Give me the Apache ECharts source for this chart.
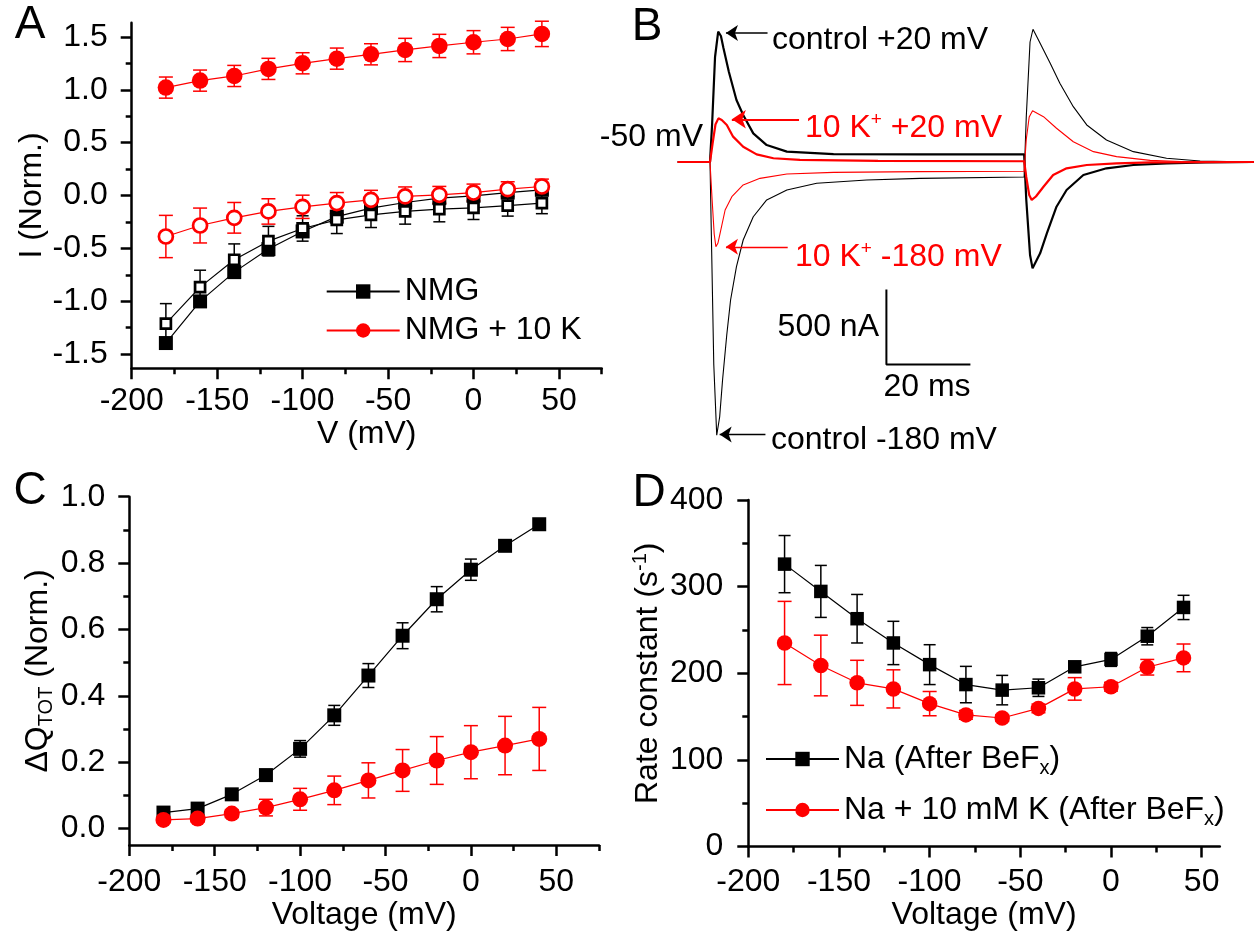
<!DOCTYPE html>
<html><head><meta charset="utf-8">
<script src="https://cdn.jsdelivr.net/npm/echarts@6/dist/echarts.min.js"></script>
<style>html,body{margin:0;padding:0;background:#fff}#chart{width:1254px;height:932px}</style>
</head><body><div id="chart"></div>
<script>
// ---------------- DATA ----------------
const voltages = [-180,-160,-140,-120,-100,-80,-60,-40,-20,0,20,40];

// Panel A : I (Norm.) vs V
const aNmgFilled    = [-1.396,-1.002,-0.725,-0.507,-0.340,-0.200,-0.120,-0.066,-0.025,-0.003,0.028,0.054];
const aNmgFilledErr = [0.03,0.04,0.04,0.05,0.05,0.05,0.06,0.05,0.05,0.04,0.04,0.03];
const aNmgOpen      = [-1.213,-0.867,-0.608,-0.432,-0.312,-0.230,-0.183,-0.151,-0.129,-0.117,-0.095,-0.072];
const aNmgOpenErr   = [0.19,0.16,0.15,0.14,0.12,0.13,0.12,0.12,0.12,0.11,0.10,0.10];
const aKFilled      = [1.021,1.087,1.131,1.198,1.251,1.295,1.336,1.377,1.415,1.450,1.481,1.529];
const aKFilledErr   = [0.10,0.10,0.10,0.10,0.10,0.10,0.10,0.11,0.11,0.11,0.11,0.12];
const aKOpen        = [-0.388,-0.284,-0.211,-0.151,-0.107,-0.072,-0.041,-0.009,0.006,0.028,0.060,0.085];
const aKOpenErr     = [0.20,0.165,0.145,0.12,0.11,0.10,0.09,0.09,0.08,0.08,0.07,0.07];

// Panel B : current traces [time (ms), current (nA)]
const ctrlPos20 = [[-7.7,0],[0,0],[0.5,250],[1.2,700],[1.95,869],[2.6,840],[3.2,760],[4.5,600],[6.3,413],[7.9,313],[10.3,191],[13.5,113],[18.3,69],[29.4,53],[50,51],[74.8,51],[75.3,-250],[76.2,-620],[76.8,-709],[78.6,-609],[80.2,-476],[82.5,-298],[84.9,-187],[88.9,-87],[94.4,-42],[100.8,-20],[108.7,-9],[118,-2],[129.5,0]];
const ctrlNeg180 = [[-7.7,0],[0,0],[0.4,-600],[0.9,-1350],[1.6,-1821],[2.3,-1700],[3.0,-1450],[4.0,-1150],[4.9,-920],[6.3,-698],[7.9,-520],[10.3,-365],[13.5,-253],[18.3,-187],[25.4,-142],[37.3,-120],[50,-109],[74.8,-100],[75.3,300],[76.2,800],[76.9,885],[78.6,791],[81,658],[83.3,525],[86.5,369],[89.7,247],[94.4,147],[100.8,69],[108.7,25],[116.7,7],[129.5,0]];
const kPos20 = [[-7.7,0],[0,0],[0.6,120],[1.3,250],[2.0,291],[2.8,280],[4,247],[5.5,169],[7.9,102],[11.1,51],[15.1,25],[21.4,14],[40,8],[74.8,5],[75.3,-100],[76.0,-220],[76.6,-253],[77.6,-230],[79.4,-165],[81.7,-87],[84.9,-42],[89.7,-20],[96.8,-9],[105,-2],[129.5,0]];
const kNeg180 = [[-7.7,0],[0,0],[0.5,-250],[1.0,-480],[1.4,-565],[1.9,-540],[2.4,-476],[3.6,-320],[5.2,-231],[7.9,-153],[11.9,-109],[18.3,-80],[29.4,-69],[50,-64],[74.8,-62],[75.3,150],[76.0,300],[76.8,342],[79.4,302],[82.5,225],[86.5,135],[91.3,69],[96.8,36],[104.8,11],[112,3],[129.5,0]];
const scaleBarOrigin = [42, -1350];   // ms, nA
const scaleBarSize = [20, 500];       // 20 ms, 500 nA

// Panel C : ΔQ_TOT (Norm.)
const cNa    = [0.048,0.060,0.103,0.161,0.240,0.341,0.461,0.581,0.691,0.780,0.852,0.917];
const cNaErr = [0.010,0.010,0.010,0.012,0.025,0.030,0.036,0.039,0.038,0.032,0.012,0.010];
const cK     = [0.026,0.030,0.045,0.063,0.088,0.115,0.145,0.175,0.205,0.230,0.250,0.270];
const cKErr  = [0.008,0.010,0.012,0.025,0.033,0.043,0.053,0.063,0.072,0.080,0.088,0.095];

// Panel D : Rate constant (s^-1)
const dNa    = [326,294.5,263,235,210,187,180.6,183.3,207.5,216,242.8,276];
const dNaErr = [33,30,28,25,23,21,17,10,5,8,10,14];
const dK     = [235,209,189,182,165,152,148.4,159.5,182,184.5,207,217.8];
const dKErr  = [48,35,26,22,14,5,4,5,13,5,9,16];

// tick labels
const vTicks = [-200,-150,-100,-50,0,50];
const vMinor = [-175,-125,-75,-25,25,75];
const aTicks = [-1.5,-1.0,-0.5,0,0.5,1.0,1.5];
const aMinor = [-1.25,-0.75,-0.25,0.25,0.75,1.25];
const cTicks = [0,0.2,0.4,0.6,0.8,1.0];
const cMinor = [0.1,0.3,0.5,0.7,0.9];
const dTicks = [0,100,200,300,400];
const dMinor = [50,150,250,350];

// ---------------- HELPERS ----------------
const FONT = 'Liberation Sans, Arial, Helvetica, sans-serif';
const FS = 32;
const RED = '#ff0000';

function pts(ys){ return voltages.map((v,i)=>[v, ys[i]]); }
function errData(ys, es){ return voltages.map((v,i)=>[v, ys[i], es[i]]); }

function errSeries(xi, yi, ys, es, color, cap){
  return {
    type:'custom', xAxisIndex:xi, yAxisIndex:yi, silent:true, z:2,
    dimensions:['x','y','e'], encode:{x:0, y:1},
    data: errData(ys, es),
    renderItem: function(params, api){
      const x = api.value(0), y = api.value(1), e = api.value(2);
      const t = api.coord([x, y + e]), b = api.coord([x, y - e]);
      const h = cap/2, st = {stroke:color, lineWidth:1.5};
      return {type:'group', children:[
        {type:'line', shape:{x1:t[0],y1:t[1],x2:b[0],y2:b[1]}, style:st},
        {type:'line', shape:{x1:t[0]-h,y1:t[1],x2:t[0]+h,y2:t[1]}, style:st},
        {type:'line', shape:{x1:b[0]-h,y1:b[1],x2:b[0]+h,y2:b[1]}, style:st}
      ]};
    }
  };
}
function lineSeries(name, xi, yi, ys, symbol, size, color, fill, border){
  return {
    type:'line', name:name, xAxisIndex:xi, yAxisIndex:yi, data:pts(ys), z:3,
    symbol:symbol, symbolSize:size, showAllSymbol:true, silent:true,
    itemStyle: fill ? {color:fill, borderColor:color, borderWidth:border} : {color:color},
    lineStyle:{color:color, width:1.2},
    emphasis:{disabled:true}
  };
}
function mainX(gi, min, max, name, nameGap, margin){
  return {type:'value', gridIndex:gi, min:min, max:max, position:'bottom',
    name:name, nameLocation:'middle', nameGap:nameGap,
    nameTextStyle:{fontSize:FS, color:'#000', fontFamily:FONT},
    axisLine:{show:true, onZero:false, lineStyle:{color:'#000', width:2.5}},
    axisTick:{show:true, inside:false, length:11, customValues:vTicks.filter(v=>v<=max), lineStyle:{color:'#000', width:2.5}},
    axisLabel:{show:true, customValues:vTicks.filter(v=>v<=max), margin:margin, fontSize:FS, color:'#000', fontFamily:FONT},
    splitLine:{show:false}};
}
function minorAxis(gi, min, max, vals, pos){
  return {type:'value', gridIndex:gi, min:min, max:max, position:pos,
    axisLine:{show:false, onZero:false},
    axisTick:{show:true, inside:false, length:6, customValues:vals, lineStyle:{color:'#000', width:2.5}},
    axisLabel:{show:false}, splitLine:{show:false}};
}
function mainY(gi, min, max, ticks, fmt, name, nameGap, margin, rich){
  return {type:'value', gridIndex:gi, min:min, max:max, position:'left',
    name:name, nameLocation:'middle', nameGap:nameGap,
    nameTextStyle:{fontSize:FS, color:'#000', fontFamily:FONT, rich:rich},
    axisLine:{show:true, onZero:false, lineStyle:{color:'#000', width:2.5}},
    axisTick:{show:true, inside:false, length:11, customValues:ticks, lineStyle:{color:'#000', width:2.5}},
    axisLabel:{show:true, customValues:ticks, formatter:fmt, margin:margin, fontSize:FS, color:'#000', fontFamily:FONT},
    splitLine:{show:false}};
}

const richBase = {fontSize:FS, fontFamily:FONT, color:'#000'};
function txt(x, y, text, align, color){
  return {type:'text', x:x, y:y, silent:true, style:{text:text, font:FS+'px '+FONT, fill:color||'#000',
    align:align, verticalAlign:'middle', textAlign:align, textVerticalAlign:'middle'}};
}
function letter(x, y, text){
  return {type:'text', x:x, y:y, silent:true, style:{text:text, font:'46px '+FONT, fill:'#000',
    align:'center', verticalAlign:'middle', textAlign:'center', textVerticalAlign:'middle'}};
}
function kText(x, y, tail){
  return {type:'text', x:x, y:y, silent:true, style:{text:'{a|10 K}{sup|+}{a|'+tail+'}', align:'left', verticalAlign:'middle', textAlign:'left', textVerticalAlign:'middle',
    rich:{a:{fontSize:FS, fontFamily:FONT, fill:RED, color:RED}, sup:{fontSize:19, fontFamily:FONT, fill:RED, color:RED, padding:[0,0,16,0]}}}};
}

// ---------------- OPTION ----------------
const option = {
  animation:false,
  backgroundColor:'#fff',
  textStyle:{fontFamily:FONT},
  grid:[
    {left:131.7, top:22.7, width:470, height:345.6},     // A
    {left:676.4, top:12, width:577.5, height:435},       // B
    {left:129.3, top:496.7, width:469.7, height:349.2},  // C
    {left:748.3, top:500, width:471.5, height:347.7}     // D
  ],
  xAxis:[
    mainX(0, -200, 75, 'V (mV)', 42, 17),
    minorAxis(0, -200, 75, vMinor, 'bottom'),
    {type:'value', gridIndex:1, min:-8, max:129.5, show:false},
    mainX(2, -200, 75, 'Voltage (mV)', 47, 21),
    minorAxis(2, -200, 75, vMinor, 'bottom'),
    mainX(3, -200, 60, 'Voltage (mV)', 45, 19.5),
    minorAxis(3, -200, 60, vMinor.filter(v=>v<60), 'bottom')
  ],
  yAxis:[
    mainY(0, -1.635, 1.635, aTicks, v=>v.toFixed(1), 'I (Norm.)', 73, 24),
    minorAxis(0, -1.635, 1.635, aMinor, 'left'),
    {type:'value', gridIndex:1, min:-1900, max:1000, show:false},
    mainY(2, -0.05, 1.0, cTicks, v=>v.toFixed(1), '{a|ΔQ}{sub|TOT}{a| (Norm.)}', 68, 24,
      {a:richBase, sub:{fontSize:20, fontFamily:FONT, color:'#000', padding:[18,0,0,0]}}),
    minorAxis(2, -0.05, 1.0, cMinor, 'left'),
    mainY(3, 0, 400, dTicks, v=>String(v), '{a|Rate constant (s}{sup|-1}{a|)}', 82, 25,
      {a:richBase, sup:{fontSize:20, fontFamily:FONT, color:'#000', padding:[0,0,16,0]}}),
    minorAxis(3, 0, 400, dMinor, 'left')
  ],
  legend:[
    {data:['NMG','NMG + 10 K'], orient:'vertical', left:320.7, top:270.5, itemWidth:73, itemHeight:18, itemGap:7,
     selectedMode:false, textStyle:{fontSize:FS, lineHeight:32, color:'#000', fontFamily:FONT}},
    {data:['Na (After BeFx)','Na + 10 mM K (After BeFx)'], orient:'vertical', left:760, top:738, itemWidth:73, itemHeight:18, itemGap:16,
     selectedMode:false,
     formatter: n => n === 'Na (After BeFx)' ? '{a|Na (After BeF}{sub|x}{a|)}' : '{a|Na + 10 mM K (After BeF}{sub|x}{a|)}',
     textStyle:{fontSize:FS, color:'#000', fontFamily:FONT,
       rich:{a:{fontSize:FS, fontFamily:FONT, color:'#000'}, sub:{fontSize:20, fontFamily:FONT, color:'#000', padding:[18,0,0,0]}}}}
  ],
  series:[
    // ---- A ----
    errSeries(0,0,aNmgFilled,aNmgFilledErr,'#000',12),
    lineSeries('NMG',0,0,aNmgFilled,'rect',14,'#000'),
    errSeries(0,0,aNmgOpen,aNmgOpenErr,'#000',12),
    lineSeries('NMG open',0,0,aNmgOpen,'rect',10,'#000','#fff',2.7),
    errSeries(0,0,aKOpen,aKOpenErr,RED,14),
    lineSeries('NMG + 10 K open',0,0,aKOpen,'circle',14,RED,'#fff',2.7),
    errSeries(0,0,aKFilled,aKFilledErr,RED,14),
    lineSeries('NMG + 10 K',0,0,aKFilled,'circle',16.5,RED),
    // ---- B ----
    {type:'line', xAxisIndex:2, yAxisIndex:2, data:ctrlNeg180, symbol:'none', silent:true, z:3,
     lineStyle:{color:'#000', width:1.1},
     markLine:{silent:true, animation:false, symbol:['none','arrow'], symbolSize:12, label:{show:false},
       lineStyle:{color:'#000', width:1.3, type:'solid'}, emphasis:{disabled:true},
       data:[[{coord:[13.2,-1816]},{coord:[2.3,-1816]}]]}},
    {type:'line', xAxisIndex:2, yAxisIndex:2, data:ctrlPos20, symbol:'none', silent:true, z:3,
     lineStyle:{color:'#000', width:2.2},
     markLine:{silent:true, animation:false, symbol:['none','arrow'], symbolSize:12, label:{show:false},
       lineStyle:{color:'#000', width:1.5, type:'solid'}, emphasis:{disabled:true},
       data:[[{coord:[13.7,860]},{coord:[3.8,860]}]]}},
    {type:'line', xAxisIndex:2, yAxisIndex:2, data:kNeg180, symbol:'none', silent:true, z:4,
     lineStyle:{color:RED, width:1.1},
     markLine:{silent:true, animation:false, symbol:['none','arrow'], symbolSize:12, label:{show:false},
       lineStyle:{color:RED, width:1.3, type:'solid'}, emphasis:{disabled:true},
       data:[[{coord:[18.5,-565]},{coord:[3.8,-565]}]]}},
    {type:'line', xAxisIndex:2, yAxisIndex:2, data:kPos20, symbol:'none', silent:true, z:4,
     lineStyle:{color:RED, width:2.2},
     markLine:{silent:true, animation:false, symbol:['none','arrow'], symbolSize:14, label:{show:false},
       lineStyle:{color:RED, width:2.2, type:'solid'}, emphasis:{disabled:true},
       data:[[{coord:[21.2,285]},{coord:[5.2,285]}]]}},
    {type:'line', xAxisIndex:2, yAxisIndex:2, symbol:'none', silent:true, z:3,
     lineStyle:{color:'#000', width:2},
     data:[[scaleBarOrigin[0], scaleBarOrigin[1]+scaleBarSize[1]], [scaleBarOrigin[0], scaleBarOrigin[1]], [scaleBarOrigin[0]+scaleBarSize[0], scaleBarOrigin[1]]]},
    // ---- C ----
    errSeries(3,3,cNa,cNaErr,'#000',12),
    lineSeries('Na C',3,3,cNa,'rect',14,'#000'),
    errSeries(3,3,cK,cKErr,RED,14),
    lineSeries('K C',3,3,cK,'circle',16,RED),
    // ---- D ----
    errSeries(5,5,dNa,dNaErr,'#000',12),
    lineSeries('Na (After BeFx)',5,5,dNa,'rect',13.5,'#000'),
    errSeries(5,5,dK,dKErr,RED,14),
    lineSeries('Na + 10 mM K (After BeFx)',5,5,dK,'circle',15.5,RED)
  ],
  graphic:[
    letter(30, 25, 'A'), letter(647, 27, 'B'), letter(30, 491, 'C'), letter(649, 493, 'D'),
    txt(772, 40, 'control +20 mV', 'left'),
    txt(771, 440, 'control -180 mV', 'left'),
    txt(703, 137, '-50 mV', 'right'),
    txt(879, 327, '500 nA', 'right'),
    txt(927, 387, '20 ms', 'center'),
    kText(805, 128, ' +20 mV'),
    kText(795, 257, ' -180 mV')
  ]
};

const chart = echarts.init(document.getElementById('chart'), null, {renderer:'canvas', width:1254, height:932});
chart.setOption(option);
</script></body></html>
